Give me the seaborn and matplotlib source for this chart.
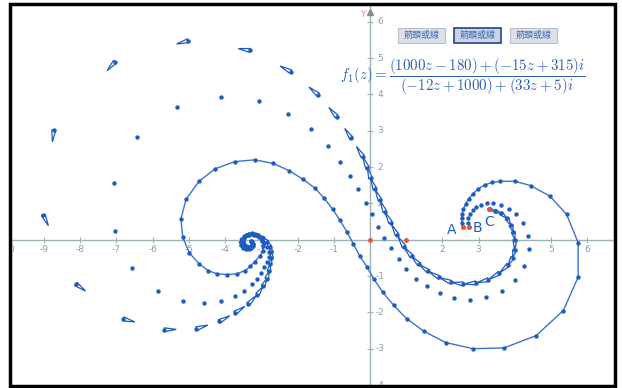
import matplotlib
matplotlib.use('Agg')
import matplotlib.pyplot as plt
import numpy as np
import pandas as pd
import seaborn as sns
from matplotlib.patches import Rectangle

sns.set_theme(style='white')
plt.rcParams['font.family'] = ['DejaVu Sans', 'Noto Sans CJK TC']
plt.rcParams['mathtext.fontset'] = 'cm'

# orbit of A (drawn as a polyline with points)
a_x = [2.56, 2.53, 2.53, 2.54, 2.58, 2.64, 2.73, 2.85, 2.98, 3.17, 3.38, 3.60, 4.00, 4.44, 4.97,
       5.43, 5.75, 5.75, 5.34, 4.59, 3.70, 2.84, 2.09, 1.49, 1.01, 0.66, 0.35, 0.10, -0.09, -0.28,
       -0.46, -0.64, -0.83, -1.03, -1.27, -1.52, -1.84, -2.23, -2.67, -3.18, -3.73, -4.28, -4.72,
       -5.08, -5.22, -5.17, -4.99, -4.72, -4.47, -4.22, -3.94, -3.68, -3.45, -3.30, -3.18,
       -3.03, -2.96, -2.95, -2.98, -3.05, -3.14, -3.24, -3.33, -3.41, -3.47, -3.50, -3.51, -3.50,
       -3.47, -3.42, -3.38, -3.33, -3.29, -3.26, -3.25, -3.24, -3.25, -3.27, -3.29]
a_y = [0.34, 0.47, 0.59, 0.71, 0.84, 0.98, 1.13, 1.27, 1.39, 1.51, 1.58, 1.61, 1.61, 1.49, 1.20,
       0.70, -0.08, -1.03, -1.95, -2.64, -2.98, -3.00, -2.83, -2.52, -2.17, -1.81, -1.44, -1.07, -0.74, -0.45,
       -0.11, 0.22, 0.54, 0.84, 1.15, 1.42, 1.66, 1.90, 2.10, 2.20, 2.15, 1.95, 1.61,
       1.11, 0.57, 0.07, -0.36, -0.66, -0.85, -0.94, -0.96, -0.94, -0.85, -0.73, -0.60,
       -0.44, -0.30, -0.16, -0.03, 0.07, 0.14, 0.17, 0.17, 0.13, 0.08, 0.01, -0.06, -0.12,
       -0.17, -0.20, -0.21, -0.21, -0.19, -0.17, -0.14, -0.11, -0.08, -0.05, -0.04]

# orbit of B (points only)
b_x = [2.73, 2.70, 2.72, 2.76, 2.84, 2.93, 3.08, 3.24, 3.41, 3.62, 3.83, 4.03, 4.24, 4.36, 4.38,
       4.25, 4.01, 3.65, 3.20, 2.76, 2.32, 1.93, 1.57, 1.26, 1.00, 0.80, 0.57, 0.39, 0.21, 0.05,
       -0.12, -0.32, -0.54, -0.82, -1.17, -1.64, -2.26, -3.07, -4.12, -5.32, -6.43, -7.07, -7.04,
       -6.56, -5.85, -5.17, -4.59, -4.10, -3.73, -3.48, -3.27, -3.11, -3.01, -2.92, -2.84, -2.80,
       -2.80, -2.85, -2.93, -2.97, -3.03, -3.10, -3.18, -3.25, -3.33, -3.39, -3.44, -3.48, -3.50,
       -3.50, -3.50, -3.48, -3.46, -3.43, -3.39, -3.36, -3.33, -3.31, -3.28, -3.27, -3.26]
b_y = [0.34, 0.47, 0.59, 0.71, 0.82, 0.89, 0.96, 1.00, 1.00, 0.95, 0.85, 0.70, 0.45, 0.10, -0.26,
       -0.71, -1.12, -1.40, -1.59, -1.65, -1.61, -1.47, -1.28, -1.07, -0.80, -0.52, -0.24, 0.04, 0.36, 0.70,
       1.02, 1.39, 1.75, 2.15, 2.59, 3.05, 3.45, 3.82, 3.92, 3.65, 2.84, 1.57, 0.25,
       -0.78, -1.40, -1.68, -1.73, -1.68, -1.56, -1.40, -1.22, -1.07, -0.92, -0.76, -0.61, -0.47,
       -0.33, -0.21, -0.10, 0.00, 0.08, 0.13, 0.17, 0.18, 0.17, 0.14, 0.11, 0.06, 0.01,
       -0.04, -0.09, -0.13, -0.16, -0.18, -0.20, -0.20, -0.20, -0.19, -0.17, -0.15, -0.13]

# orbit of C (points with arrow wedges)
c_x = [3.30, 3.45, 3.62, 3.78, 3.89, 3.96, 4.00, 4.00, 3.94, 3.82, 3.57, 3.27, 2.93, 2.58, 2.23,
       1.91, 1.61, 1.36, 1.15, 0.94, 0.75, 0.57, 0.41, 0.28, 0.14, 0.02, -0.07, -0.20, -0.51,
       -0.92, -1.43, -2.19, -3.31, -5.02, -7.04, -8.73, -9.02, -8.12, -6.81, -5.68, -4.79, -4.16,
       -3.73, -3.36, -3.11, -2.95, -2.85, -2.79, -2.76, -2.72, -2.72, -2.76, -2.84, -2.95, -3.08,
       -3.21, -3.34, -3.45, -3.53, -3.56, -3.55, -3.50, -3.43, -3.35, -3.28, -3.24, -3.23, -3.25, -3.29]
c_y = [0.84, 0.79, 0.73, 0.59, 0.40, 0.21, 0.00, -0.28, -0.49, -0.69, -0.92, -1.10, -1.19, -1.22, -1.17,
       -1.04, -0.87, -0.68, -0.46, -0.19, 0.13, 0.47, 0.77, 1.09, 1.39, 1.69, 1.98, 2.29, 2.79,
       3.39, 3.99, 4.63, 5.21, 5.48, 4.90, 3.02, 0.68, -1.22, -2.18, -2.48, -2.45, -2.25,
       -2.02, -1.77, -1.51, -1.28, -1.07, -0.87, -0.67, -0.50, -0.34, -0.19, -0.06, 0.04, 0.11,
       0.14, 0.13, 0.09, 0.02, -0.06, -0.15, -0.22, -0.26, -0.26, -0.23, -0.18, -0.12, -0.07, -0.04]

# special (red) points: origin, 1, A, B, C
red_x = [0, 1, 2.56, 2.73, 3.30]
red_y = [0, 0, 0.34, 0.34, 0.84]
point_labels = ['A', 'B', 'C']
label_x = [2.26, 2.96, 3.30]
label_y = [0.27, 0.33, 0.50]

x_ticks = [-10, -9, -8, -7, -6, -5, -4, -3, -2, -1, 1, 2, 3, 4, 5, 6]
y_ticks = [-4, -3, -2, -1, 1, 2, 3, 4, 5, 6]
button_text = ['箭頭或線', '箭頭或線', '箭頭或線']

blue = '#1f5cbf'
line_blue = '#3a74cf'
red = '#e8553a'
axis_col = '#9db1b6'
label_col = '#8d9ca3'

W, H = 622, 388
fig = plt.figure(figsize=(W / 100, H / 100), dpi=100)
ax = fig.add_axes([10 / W, 3 / H, 604 / W, 381 / H])
ax.set_xlim(-9.94, 6.74)
ax.set_ylim(-4.0, 6.49)
ax.axis('off')

# axes with arrow on y
ax.axhline(0, color=axis_col, lw=1, zorder=1)
ax.axvline(0, color=axis_col, lw=1, zorder=1)
ax.plot([0], [6.28], marker='^', ms=5, color='#7f8f95', zorder=1)
ax.text(-0.2, 6.2, 'Y', color='#f08a8a', fontsize=6.5, ha='center', va='center')
ax.plot(x_ticks, [0] * len(x_ticks), ls='none', marker='|', ms=4, mew=0.8, color=axis_col, zorder=1)
ax.plot([0] * len(y_ticks), y_ticks, ls='none', marker='_', ms=4, mew=0.8, color=axis_col, zorder=1)
for t in x_ticks:
    ax.annotate(str(t), (t, 0), xytext=(0, -10), textcoords='offset pixels', ha='center',
                va='center', fontsize=6.5, color=label_col, zorder=1, annotation_clip=False, clip_on=True)
for t in y_ticks:
    ax.annotate(str(t), (0, t), xytext=(10, 0), textcoords='offset pixels', ha='center',
                va='center', fontsize=6.5, color=label_col, zorder=1)

# orbit A: line + points
sns.lineplot(x=a_x, y=a_y, sort=False, estimator=None, color=line_blue, lw=1, ax=ax, zorder=2)
sns.scatterplot(x=a_x, y=a_y, color=blue, s=10, linewidth=0, ax=ax, zorder=4)

# orbit B: points
sns.scatterplot(x=b_x, y=b_y, color=blue, s=10, linewidth=0, ax=ax, zorder=4)

# orbit C: wedges pointing to the next point
wedge_len = 0.33
half_w = 0.055
for i in range(len(c_x) - 1):
    p = np.array([c_x[i], c_y[i]])
    q = np.array([c_x[i + 1], c_y[i + 1]])
    d = q - p
    dist = np.hypot(*d)
    u = d / dist
    n = np.array([-u[1], u[0]])
    tip = p + u * min(dist, wedge_len)
    tri = np.array([p + n * half_w, p - n * half_w, tip])
    ax.fill(tri[:, 0], tri[:, 1], facecolor='white', edgecolor=blue, lw=0.9, zorder=3)
sns.scatterplot(x=c_x, y=c_y, color=blue, s=10, linewidth=0, ax=ax, zorder=4)

sns.scatterplot(x=red_x, y=red_y, color=red, s=12, linewidth=0, ax=ax, zorder=5)
for t, x, y in zip(point_labels, label_x, label_y):
    ax.text(x, y, t, color=blue, fontsize=10, ha='center', va='center', zorder=5)

# formula
fig.text(340 / W, 1 - 77 / H,
         r'$f_1(z) = \dfrac{(1000z-180)+(-15z+315)i}{(-12z+1000)+(33z+5)i}$',
         color='#2d5fb8', fontsize=10.8, ha='left', va='center')

# toggle buttons
btn_x0 = [398, 454, 510]
for k, (bx, txt) in enumerate(zip(btn_x0, button_text)):
    active = k == 1
    fig.add_artist(Rectangle((bx / W, 1 - 43 / H), 47 / W, 15 / H, transform=fig.transFigure,
                             facecolor='#c9d5e6' if active else '#dde1e6',
                             edgecolor='#24467f' if active else '#b9bfc7', lw=1.2 if active else 0.8))
    fig.text((bx + 23.5) / W, 1 - 35.5 / H, txt, color='#3a66b0', fontsize=6.5,
             ha='center', va='center', family=['Noto Sans CJK TC', 'DejaVu Sans'])

# outer black frame
fig.add_artist(Rectangle((9.5 / W, 2.5 / H), 605 / W, 382 / H, transform=fig.transFigure,
                         fill=False, edgecolor='black', lw=2.5))

fig.savefig('out.png', dpi=100)
